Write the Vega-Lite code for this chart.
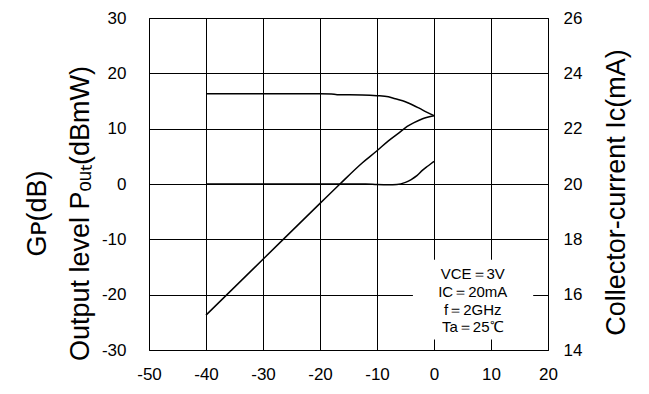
{
  "$schema": "https://vega.github.io/schema/vega-lite/v6.json",
  "width": 399,
  "height": 332,
  "autosize": {"type": "none"},
  "padding": {"left": 149, "top": 18, "right": 101, "bottom": 44},
  "background": "white",
  "config": {
    "font": "Liberation Sans",
    "view": {"stroke": "black", "strokeWidth": 1},
    "axis": {
      "labelFont": "Liberation Sans",
      "labelFontSize": 17,
      "labelColor": "black",
      "labelExpr": "'' + datum.value",
      "titleFont": "Liberation Sans",
      "titleFontWeight": "normal",
      "titleColor": "black",
      "ticks": false,
      "domain": false,
      "gridColor": "black",
      "gridOpacity": 1,
      "gridWidth": 1
    }
  },
  "datasets": {
    "curves": [
      {"series": "Gp", "x": -40, "v": 16.3},
      {"series": "Gp", "x": -30, "v": 16.3},
      {"series": "Gp", "x": -20, "v": 16.3},
      {"series": "Gp", "x": -18, "v": 16.25},
      {"series": "Gp", "x": -17, "v": 16.15},
      {"series": "Gp", "x": -12.6, "v": 16.1},
      {"series": "Gp", "x": -10, "v": 15.97},
      {"series": "Gp", "x": -8, "v": 15.75},
      {"series": "Gp", "x": -6.8, "v": 15.4},
      {"series": "Gp", "x": -5.5, "v": 15.05},
      {"series": "Gp", "x": -4.4, "v": 14.6},
      {"series": "Gp", "x": -2.6, "v": 13.7},
      {"series": "Gp", "x": -1.3, "v": 13.0},
      {"series": "Gp", "x": 0, "v": 12.35},
      {"series": "Pout", "x": -40, "v": -23.7},
      {"series": "Pout", "x": -30, "v": -13.6},
      {"series": "Pout", "x": -20, "v": -3.5},
      {"series": "Pout", "x": -16.5, "v": 0},
      {"series": "Pout", "x": -12.6, "v": 3.8},
      {"series": "Pout", "x": -10, "v": 6.0},
      {"series": "Pout", "x": -8, "v": 7.8},
      {"series": "Pout", "x": -6.2, "v": 9.2},
      {"series": "Pout", "x": -4.7, "v": 10.4},
      {"series": "Pout", "x": -3.5, "v": 11.1},
      {"series": "Pout", "x": -2, "v": 11.8},
      {"series": "Pout", "x": 0, "v": 12.35}
    ],
    "ic": [
      {"x": -40, "ma": 20},
      {"x": -30, "ma": 20},
      {"x": -20, "ma": 20},
      {"x": -12, "ma": 20},
      {"x": -10, "ma": 19.98},
      {"x": -8, "ma": 19.97},
      {"x": -6.5, "ma": 19.98},
      {"x": -5, "ma": 20.06},
      {"x": -4, "ma": 20.16},
      {"x": -3, "ma": 20.3},
      {"x": -2, "ma": 20.5},
      {"x": -1, "ma": 20.66},
      {"x": 0, "ma": 20.82}
    ],
    "box": [{"x": -3.7, "x2": 17.4, "v": -13.7, "v2": -28.1}],
    "note": [
      {"x": 6.8, "v": -16.3, "label": "VCE＝3V"},
      {"x": 6.8, "v": -19.6, "label": "IC＝20mA"},
      {"x": 6.8, "v": -22.7, "label": "f＝2GHz"},
      {"x": 6.8, "v": -25.8, "label": "Ta＝25℃"}
    ]
  },
  "layer": [
    {
      "layer": [
        {
          "data": {"name": "curves"},
          "mark": {"type": "line", "color": "black", "strokeWidth": 1.5, "interpolate": "monotone"},
          "encoding": {
            "x": {
              "field": "x", "type": "quantitative",
              "scale": {"domain": [-50, 20], "nice": false, "zero": false},
              "axis": {"values": [-50, -40, -30, -20, -10, 0, 10, 20], "title": null, "grid": true, "labelPadding": 16, "labelFlush": false}
            },
            "y": {
              "field": "v", "type": "quantitative",
              "scale": {"domain": [-30, 30], "nice": false, "zero": false},
              "axis": {
                "values": [-30, -20, -10, 0, 10, 20, 30],
                "grid": true,
                "labelPadding": 23,
                "labelFlush": false,
                "title": ["Gᴘ(dB)", "Output level Pₒᵤₜ(dBmW)"],
                "titleFontSize": 27,
                "titleAngle": -90,
                "titleAlign": "center",
                "titleBaseline": "alphabetic",
                "titleLineHeight": 43,
                "titleX": -104,
                "titleY": 195
              }
            },
            "detail": {"field": "series"}
          }
        },
        {
          "data": {"name": "box"},
          "mark": {"type": "rect", "fill": "white", "stroke": null},
          "encoding": {
            "x": {"field": "x", "type": "quantitative"},
            "x2": {"field": "x2"},
            "y": {"field": "v", "type": "quantitative"},
            "y2": {"field": "v2"}
          }
        },
        {
          "data": {"name": "note"},
          "mark": {"type": "text", "font": "Liberation Sans", "fontSize": 15, "color": "black", "align": "center", "baseline": "middle"},
          "encoding": {
            "x": {"field": "x", "type": "quantitative"},
            "y": {"field": "v", "type": "quantitative"},
            "text": {"field": "label"}
          }
        }
      ]
    },
    {
      "data": {"name": "ic"},
      "mark": {"type": "line", "color": "black", "strokeWidth": 1.5, "interpolate": "monotone"},
      "encoding": {
        "x": {"field": "x", "type": "quantitative"},
        "y": {
          "field": "ma", "type": "quantitative",
          "scale": {"domain": [14, 26], "nice": false, "zero": false},
          "axis": {
            "orient": "right",
            "values": [14, 16, 18, 20, 22, 24, 26],
            "grid": false,
            "labelPadding": 15,
            "labelFlush": false,
            "title": "Collector-current Iᴄ(mA)",
            "titleFontSize": 27,
            "titleAngle": -90,
            "titleAlign": "center",
            "titleBaseline": "alphabetic",
            "titleX": 76,
            "titleY": 174
          }
        }
      }
    }
  ],
  "resolve": {"scale": {"y": "independent"}, "axis": {"y": "independent"}}
}
